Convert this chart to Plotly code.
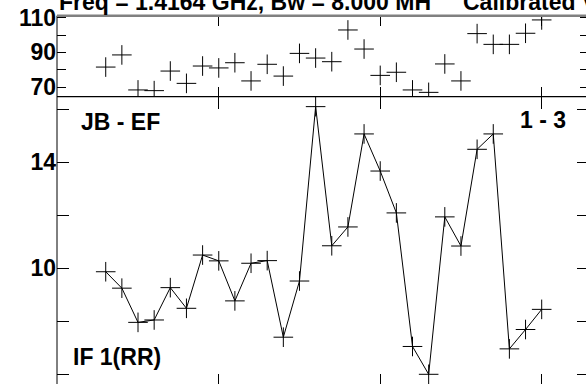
import plotly.graph_objects as go

# ---- data ----
idx = list(range(1, 29))
amp = [81.5, 88.5, 68.3, 67.9, 79.2, 72.1, 82.1, 81.0, 84.0, 73.5,
       83.1, 76.3, 89.4, 86.7, 84.6, 102.9, 91.9, 76.7, 78.5, 68.3,
       66.9, 83.3, 73.5, 100.8, 94.6, 94.6, 101.0, 108.7]
phase = [9.87, 9.25, 7.96, 8.05, 9.27, 8.49, 10.50, 10.28, 8.77, 10.19,
         10.29, 7.40, 9.52, 16.10, 10.85, 11.56, 15.07, 13.67, 12.09, 7.05,
         6.00, 11.94, 10.84, 14.49, 15.07, 6.96, 7.69, 8.45]
top_tickvals = [70, 80, 90, 100, 110]
top_ticktext = ["70", "", "90", "", "110"]
bot_tickvals = [6, 8, 10, 12, 14, 16]
bot_ticktext = ["6", "", "10", "", "14", ""]
x_tickvals = [8, 18, 28]
title_left = "Freq = 1.4164 GHz, Bw = 8.000 MH"
title_right = "Calibrated V"
baseline_label = "JB - EF"
corr_label = "1 - 3"
if_label = "IF 1(RR)"

W, H = 589, 386
L = 57.3
FONT = "Liberation Sans, Arial, sans-serif"

def py(p):
    return (H - p) / H

def px(p):
    return (p - L) / (W - L)

top_dom = [py(96.7), py(15.7)]
bot_dom = [0, py(96.7)]
xr = [-2.017, 30.93]

fig = go.Figure()
mk = dict(symbol="cross-thin", size=14, line=dict(color="black", width=1), color="black")
fig.add_trace(go.Scatter(x=idx, y=amp, mode="markers", marker=mk,
                         xaxis="x2", yaxis="y2", showlegend=False))
fig.add_trace(go.Scatter(x=idx, y=phase, mode="lines+markers", marker=mk,
                         line=dict(color="black", width=1),
                         xaxis="x", yaxis="y", showlegend=False))

tickfont = dict(family=FONT, size=23, color="black")
common = dict(showgrid=False, zeroline=False, showline=False, automargin=False,
              tickwidth=1, tickcolor="black", ticks="inside", mirror="ticks")
fig.update_layout(
    template="none",
    width=W, height=H,
    margin=dict(l=L, r=0, t=0, b=0, pad=0),
    paper_bgcolor="white", plot_bgcolor="white",
    font=dict(family=FONT, color="black", size=23),
    xaxis=dict(domain=[0, 1], range=xr, anchor="y", tickvals=x_tickvals,
               showticklabels=False, ticklen=12, **common),
    yaxis=dict(domain=bot_dom, range=[5.5585, 16.475], anchor="x",
               tickvals=bot_tickvals,
               ticktext=["<b>%s</b>" % t if t else "" for t in bot_ticktext],
               tickfont=tickfont, ticklen=12, **common),
    xaxis2=dict(domain=[0, 1], range=xr, anchor="y2", tickvals=x_tickvals,
                showticklabels=False, ticklen=10, **common),
    yaxis2=dict(domain=top_dom, range=[64.4, 111.14], anchor="x2",
                tickvals=top_tickvals,
                ticktext=["<b>%s</b>" % t if t else "" for t in top_ticktext],
                tickfont=tickfont, ticklen=9, **common),
    shapes=[
        dict(type="line", xref="paper", yref="paper", x0=0, x1=0,
             y0=0, y1=py(15.7), line=dict(color="black", width=1)),
        dict(type="line", xref="paper", yref="paper", x0=0, x1=1,
             y0=py(96.7), y1=py(96.7), line=dict(color="black", width=1.3)),
        dict(type="line", xref="paper", yref="paper", x0=0, x1=1,
             y0=py(15.7), y1=py(15.7), line=dict(color="#808080", width=2.5)),
    ],
)

lab = dict(family=FONT, size=23, color="black")
ann = [
    dict(text="<b>%s</b>" % title_left, x=px(58), y=py(1.5), xanchor="left",
         yanchor="middle", font=lab),
    dict(text="<b>%s</b>" % title_right, x=px(462), y=py(1.5), xanchor="left",
         yanchor="middle", font=lab),
    dict(text="<b>%s</b>" % baseline_label, x=px(80), y=py(122), xanchor="left",
         yanchor="middle", font=lab),
    dict(text="<b>%s</b>" % corr_label, x=px(567), y=py(120), xanchor="right",
         yanchor="middle", font=lab),
    dict(text="<b>%s</b>" % if_label, x=px(72.7), y=py(356.7), xanchor="left",
         yanchor="middle", font=lab),
]
for a in ann:
    fig.add_annotation(xref="paper", yref="paper", showarrow=False,
                       borderpad=0, **a)

fig.write_html("out.html",
               config={"displayModeBar": False},
               post_script="document.body.style.margin='0';"
                           "document.body.style.overflow='hidden';")
